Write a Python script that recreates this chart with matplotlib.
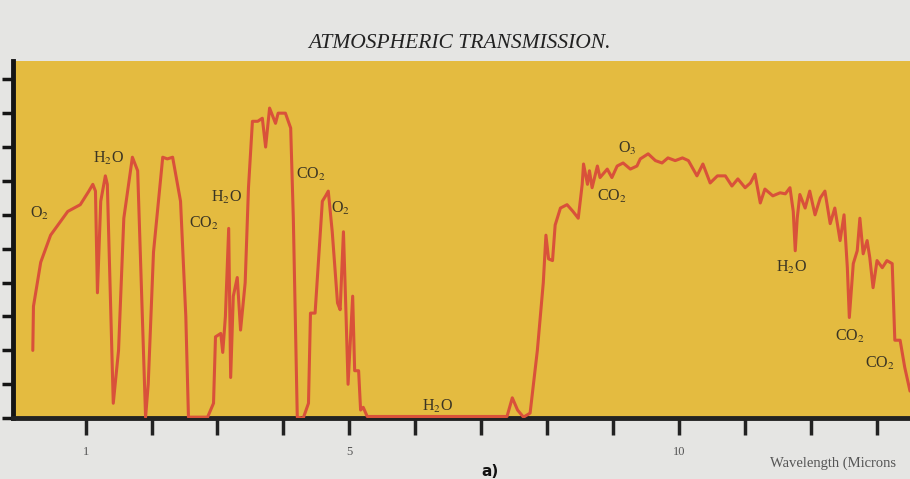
import matplotlib
matplotlib.use("Agg")
import matplotlib.pyplot as plt

plt.rcParams["mathtext.fontset"] = "stix"

# transmission curve (wavelength in microns, transmission in %)
wavelength = [0.20, 0.21, 0.32, 0.47, 0.73, 0.92, 1.05, 1.11, 1.15, 1.18,
              1.23, 1.30, 1.33, 1.42, 1.50, 1.58, 1.71, 1.79, 1.83, 1.91,
              1.95, 2.03, 2.17, 2.24, 2.32, 2.44, 2.52, 2.56, 2.85, 2.94,
              2.97, 3.05, 3.08, 3.12, 3.17, 3.20, 3.24, 3.30, 3.35, 3.42,
              3.47, 3.53, 3.61, 3.68, 3.73, 3.79, 3.88, 3.92, 4.03, 4.11,
              4.15, 4.21, 4.30, 4.38, 4.41, 4.48, 4.59, 4.64, 4.68, 4.74,
              4.82, 4.86, 4.91, 4.95, 4.98, 5.05, 5.08, 5.14, 5.17, 5.21,
              5.27, 7.39, 7.47, 7.55, 7.64, 7.74, 7.85, 7.94, 7.98, 8.02,
              8.08, 8.12, 8.20, 8.30, 8.39, 8.47, 8.53, 8.55, 8.61, 8.64,
              8.68, 8.76, 8.80, 8.91, 8.98, 9.06, 9.15, 9.26, 9.36, 9.41,
              9.53, 9.64, 9.74, 9.83, 9.94, 10.05, 10.14, 10.27, 10.36, 10.47,
              10.58, 10.70, 10.80, 10.89, 11.00, 11.08, 11.15, 11.23, 11.30, 11.42,
              11.53, 11.61, 11.68, 11.73, 11.76, 11.79, 11.83, 11.91, 11.98, 12.06,
              12.14, 12.21, 12.29, 12.36, 12.44, 12.50, 12.55, 12.58, 12.64, 12.70,
              12.74, 12.79, 12.85, 12.89, 12.94, 13.00, 13.08, 13.15, 13.23, 13.27,
              13.35, 13.42, 13.50]
transmission = [20, 33, 46, 54, 61, 63, 67, 69, 67, 37,
                64, 71.5, 69, 4.4, 20, 59, 77, 73, 49, 0.3,
                10, 49, 77, 76.5, 77, 64, 30, 0.3, 0.3, 4.4,
                24, 25, 19.4, 30, 56, 12, 36, 41.5, 26, 40,
                68, 87.6, 87.6, 88.5, 80, 91.5, 87, 90, 90, 85.6,
                59, 0.3, 0, 4.4, 31, 31, 64, 65.6, 67, 55,
                34, 32, 55, 30, 10, 36, 14, 14, 2.4, 3.2,
                0.5, 0.5, 6, 2.4, 0.3, 1.5, 20, 40, 54, 47,
                46.5, 57, 62, 63, 61, 59, 69, 75, 69, 73,
                68, 74.4, 71, 73.5, 71, 74.4, 75.3, 73.5, 74.4, 76.5,
                78, 76, 75.3, 76.8, 76, 76.8, 76, 71.5, 75, 69.4,
                71.5, 71.5, 68.5, 70.6, 68, 69.4, 72, 63.5, 67.6, 65.6,
                66.5, 66.2, 68, 61, 49.4, 59, 66, 62, 67, 60,
                65, 67, 57.4, 62, 52.4, 60, 44.4, 29.7, 45.6, 49.4,
                59, 48.5, 52.4, 47.4, 38.5, 46.5, 44.4, 46.5, 45.6, 23,
                23, 15, 8]

# absorption labels: (text, wavelength, transmission)
labels = [("O$_2$", 0.30, 60.5),
          ("H$_2$O", 1.35, 76.5),
          ("CO$_2$", 2.80, 57.5),
          ("H$_2$O", 3.13, 65),
          ("CO$_2$", 4.42, 72),
          ("O$_2$", 4.87, 62),
          ("H$_2$O", 6.33, 3.5),
          ("O$_3$", 9.21, 79.5),
          ("CO$_2$", 8.98, 65.5),
          ("H$_2$O", 11.71, 44.5),
          ("CO$_2$", 12.59, 24),
          ("CO$_2$", 13.05, 16)]

x_ticks = [1, 2, 3, 4, 5, 6, 7, 8, 9, 10, 11, 12, 13]
x_ticklabels = ["1", "", "", "", "5", "", "", "", "", "10", "", "", ""]
y_ticks = [0, 10, 20, 30, 40, 50, 60, 70, 80, 90, 100]

serif = ["Liberation Serif", "DejaVu Serif"]

fig = plt.figure(figsize=(9.1, 4.79), dpi=100)
fig.patch.set_facecolor("#e5e5e3")
ax = fig.add_axes([0.0143, 0.127, 0.9857, 0.745])
ax.set_facecolor("#e4bb40")

ax.plot(wavelength, transmission, color="#d9513a", linewidth=2.2,
        solid_joinstyle="round", solid_capstyle="round", zorder=3)

for text, x, y in labels:
    ax.text(x, y, text, fontsize=11.5, family=serif, color="#3a3424",
            ha="center", va="center", zorder=4)

ax.set_xlim(-0.1, 13.5)
ax.set_ylim(0, 105.3)

for s in ["top", "right"]:
    ax.spines[s].set_visible(False)
ax.spines["left"].set_linewidth(3.5)
ax.spines["bottom"].set_linewidth(3.5)
ax.spines["left"].set_color("#151515")
ax.spines["bottom"].set_color("#222222")

ax.set_xticks(x_ticks)
ax.set_xticklabels(x_ticklabels, family=serif, fontsize=9, color="#555555")
ax.set_yticks(y_ticks)
ax.set_yticklabels([])
ax.tick_params(axis="x", direction="out", length=12, width=2.5, pad=8, color="#222222")
ax.tick_params(axis="y", direction="out", length=8, width=2.5, color="#151515")

fig.text(0.505, 0.91, "ATMOSPHERIC TRANSMISSION.", fontsize=15.5, family=serif,
         style="italic", color="#222222", ha="center", va="center")
fig.text(0.915, 0.033, "Wavelength (Microns", fontsize=10.5, family=serif,
         color="#555555", ha="center", va="center")
fig.text(0.538, 0.016, "a)", fontsize=11, fontweight="bold", color="#111111",
         ha="center", va="center")

fig.savefig("out.png", dpi=100, facecolor=fig.get_facecolor())
